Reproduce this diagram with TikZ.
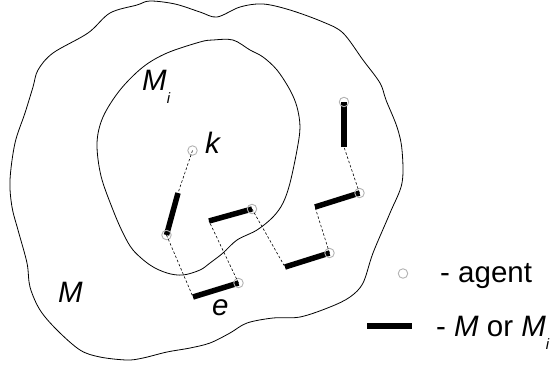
\documentclass[tikz,border=0pt]{standalone}
\usepackage{fontspec}
\setmainfont{Liberation Sans}
\newcommand{\subi}{{\fontsize{15}{15}\selectfont\raisebox{-13pt}{\textit{i}}}}
\begin{document}
\begin{tikzpicture}[x=1pt,y=-1pt,
  blob/.style={draw=black,line width=0.8pt},
  agent/.style={circle,draw=black!30,line width=0.9pt,minimum size=9.5pt,inner sep=0pt},
  seg/.style={line width=5.5pt,black},
  link/.style={dashed,line width=0.6pt,dash pattern=on 2.5pt off 2pt},
  lab/.style={font=\fontsize{29.5}{31}\selectfont,inner sep=0pt,anchor=base west}]
\useasboundingbox (0,0) rectangle (553,365);
% outer region M
\draw[blob] plot[smooth cycle,tension=0.55] coordinates {
 (150,1) (175,4) (200,12) (217,17) (240,7) (263,4) (290,10) (323,22) (343,33)
 (363,60) (380,83) (386,100) (397,127) (402,150) (402,183) (390,213) (373,253)
 (363,283) (350,297) (330,307) (300,317) (273,318) (247,323) (230,333) (210,343)
 (190,348) (167,352) (143,358) (127,360) (100,357) (80,350) (57,330) (40,310)
 (30,287) (27,263) (18,230) (12,207) (10,180) (15,143) (25,113) (33,87) (38,70)
 (53,53) (88,33) (110,13) (137,5)};
% inner region M_i
\draw[blob] plot[smooth cycle,tension=0.55] coordinates {
 (200,42) (213,40) (233,40) (250,50) (263,57) (277,70) (290,90) (297,107)
 (300,127) (297,150) (290,183) (283,203) (273,217) (257,230) (237,240) (223,253)
 (210,263) (200,270) (183,275) (167,273) (150,265) (133,250) (123,233) (113,210)
 (101,176) (97,143) (103,117) (120,90) (143,67) (167,53)};
% segment end points
\coordinate (s1) at (178,193);
\coordinate (s2) at (193,297);
\coordinate (s3) at (209,221);
\coordinate (s4) at (285,267);
\coordinate (s5) at (315,207);
\coordinate (s6) at (344,147);
\coordinate (ak) at (192.5,150.5);
\coordinate (p1) at (166.5,235);
\coordinate (p2) at (238.5,283);
\coordinate (p3) at (252,209);
\coordinate (p4) at (329.5,253);
\coordinate (p5) at (359.5,193);
\coordinate (p6) at (344,102);
% thick segments
\draw[seg] (s1) -- (p1);
\draw[seg] (s2) -- (p2);
\draw[seg] (s3) -- (p3);
\draw[seg] (s4) -- (p4);
\draw[seg] (s5) -- (p5);
\draw[seg] (s6) -- (p6);
% agents
\node[agent] (k) at (ak) {};
\node[agent] (a1) at (p1) {};
\node[agent] (a2) at (p2) {};
\node[agent] (a3) at (p3) {};
\node[agent] (a4) at (p4) {};
\node[agent] (a5) at (p5) {};
\node[agent] (a6) at (p6) {};
% dashed links
\draw[link] (k.center) -- (s1);
\draw[link] (a1.center) -- (s2);
\draw[link] (a2.center) -- (s3);
\draw[link] (a3.center) -- (s4);
\draw[link] (a4.center) -- (s5);
\draw[link] (a5.center) -- (s6);
% labels
\node[lab] (lMi) at (142,90) {\textit{M}\subi};
\node[lab] (lk) at (205,153) {\textit{k}};
\node[lab] (lM) at (58,302) {\textit{M}};
\node[lab] (le) at (212,315) {\textit{e}};
% legend
\node[agent] (legA) at (403,273.5) {};
\node[lab] (legAt) at (440,282) {- agent};
\coordinate (legL1) at (367,326);
\coordinate (legL2) at (412,326);
\draw[seg,line width=6.5pt] (legL1) -- (legL2);
\node[lab] (legMt) at (436,336) {- \textit{M} or \textit{M}\subi};
\end{tikzpicture}
\end{document}
